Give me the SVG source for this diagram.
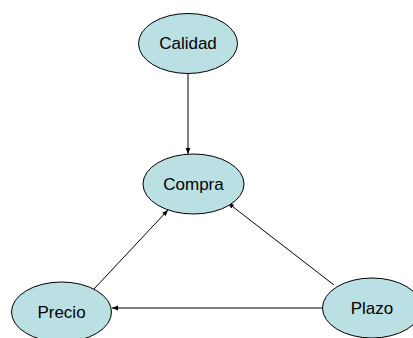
<svg xmlns="http://www.w3.org/2000/svg" width="413" height="338" viewBox="0 0 413 338">
<defs>
<style>
.node ellipse{fill:#BBE0E3;stroke:#000;stroke-width:1}
.node text{font-family:"Liberation Sans",Arial,sans-serif;font-size:17px;fill:#000;text-anchor:middle;dominant-baseline:central}
.edge{stroke:#000;stroke-width:1;fill:none;marker-end:url(#arr)}
</style>
<marker id="arr" viewBox="0 0 10 10" refX="10" refY="5" markerWidth="6" markerHeight="6" orient="auto" markerUnits="userSpaceOnUse">
<path d="M0,1 L10,5 L0,9 z" fill="#000"/>
</marker>
</defs>
<rect width="413" height="338" fill="#fff"/>
<g id="connectors">
<line class="edge" x1="188" y1="73" x2="188" y2="154"/>
<line class="edge" x1="323" y1="308" x2="112" y2="308"/>
<line class="edge" x1="94" y1="289" x2="168" y2="210"/>
<line class="edge" x1="334" y1="285" x2="228" y2="203"/>
</g>
<g id="calidad" class="node"><ellipse cx="188" cy="43.5" rx="49.5" ry="30"/><text x="188" y="43.5">Calidad</text></g>
<g id="compra" class="node"><ellipse cx="193.5" cy="184" rx="50.5" ry="30"/><text x="193.5" y="184">Compra</text></g>
<g id="precio" class="node"><ellipse cx="61.5" cy="312" rx="50" ry="30"/><text x="61.5" y="312">Precio</text></g>
<g id="plazo" class="node"><ellipse cx="372" cy="308" rx="49.5" ry="30"/><text x="372" y="308">Plazo</text></g>
</svg>
